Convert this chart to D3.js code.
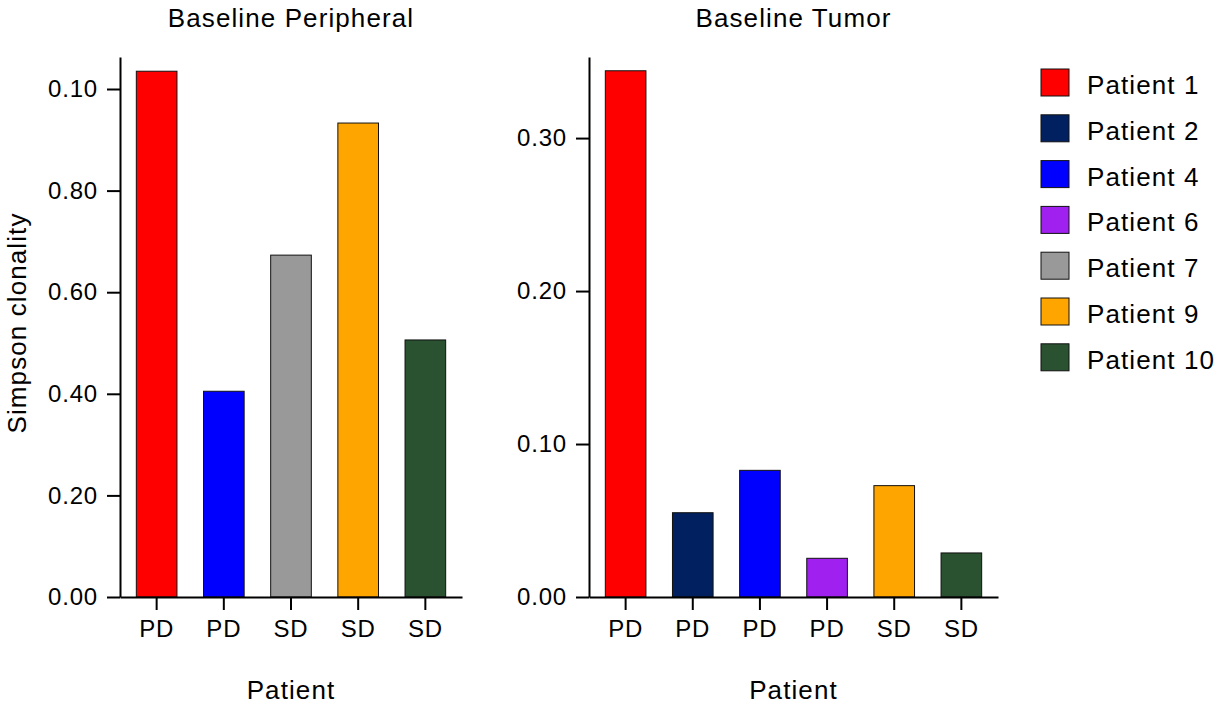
<!DOCTYPE html>
<html>
<head>
<meta charset="utf-8">
<script src="https://cdn.jsdelivr.net/npm/d3@7"></script>
<style>
  body { margin: 0; background: #fff; }
  svg text { font-family: "Liberation Sans", Arial, sans-serif; fill: #000; letter-spacing: 1.1px; }
  .axis path, .axis line { stroke: #000; stroke-width: 2px; }
  .axis text { font-size: 24px; letter-spacing: 0.8px; }
</style>
</head>
<body>
<div id="chart"><svg width="1215" height="709"></svg></div>
<script>
// left panel: Baseline Peripheral
const periphPatients = ["Patient 1", "Patient 4", "Patient 7", "Patient 9", "Patient 10"];
const periphResponse = ["PD", "PD", "SD", "SD", "SD"];
const periphValues = [1.035, 0.405, 0.673, 0.933, 0.506];
const periphTicks = [0, 0.2, 0.4, 0.6, 0.8, 1.0];
const periphTickLabels = ["0.00", "0.20", "0.40", "0.60", "0.80", "0.10"];

// right panel: Baseline Tumor
const tumorPatients = ["Patient 1", "Patient 2", "Patient 4", "Patient 6", "Patient 9", "Patient 10"];
const tumorResponse = ["PD", "PD", "PD", "PD", "SD", "SD"];
const tumorValues = [0.344, 0.0551, 0.0828, 0.0253, 0.0728, 0.0288];
const tumorTicks = [0, 0.1, 0.2, 0.3];
const tumorTickLabels = ["0.00", "0.10", "0.20", "0.30"];

// legend
const legendPatients = ["Patient 1", "Patient 2", "Patient 4", "Patient 6", "Patient 7", "Patient 9", "Patient 10"];
const legendColors = ["#FF0000", "#002060", "#0000FF", "#A020F0", "#999999", "#FFA500", "#2A5230"];

const color = d3.scaleOrdinal().domain(legendPatients).range(legendColors);

const svg = d3.select("#chart").select("svg");

const plotTop = 57, plotBottom = 597;

function drawPanel(cfg) {
	const n = cfg.patients.length;
	const xScale = d3.scaleBand()
		.domain(d3.range(n))
		.range([cfg.x0, cfg.x1])
		.paddingInner(0.395)
		.paddingOuter(0.243);

	const yScale = d3.scaleLinear()
		.domain([0, cfg.yMax])
		.range([plotBottom, plotTop]);

	const g = svg.append("g");

	// bars
	g.selectAll(".bar")
	  .data(cfg.values)
	  .enter()
	  .append("rect")
		.attr("class", "bar")
		.attr("x", (d, i) => xScale(i))
		.attr("width", xScale.bandwidth())
		.attr("y", d => yScale(d))
		.attr("height", d => plotBottom - yScale(d))
		.attr("fill", (d, i) => color(cfg.patients[i]))
		.attr("stroke", "#111")
		.attr("stroke-width", 1);

	// y axis
	g.append("g")
		.attr("class", "axis")
		.attr("transform", `translate(${cfg.x0}, 0)`)
		.call(d3.axisLeft(yScale)
			.tickValues(cfg.ticks)
			.tickFormat((d, i) => cfg.tickLabels[i])
			.tickSize(13)
			.tickPadding(9)
			.tickSizeOuter(0)
		);

	// x axis
	g.append("g")
		.attr("class", "axis")
		.attr("transform", `translate(0, ${plotBottom})`)
		.call(d3.axisBottom(xScale)
			.tickFormat((d, i) => cfg.response[i])
			.tickSize(13)
			.tickPadding(10)
			.tickSizeOuter(0)
		);

	g.selectAll(".axis .domain").attr("fill", "none");

	const mid = (cfg.x0 + cfg.x1) / 2;

	g.append("text")
		.attr("x", mid)
		.attr("y", 27)
		.attr("text-anchor", "middle")
		.attr("font-size", 26)
		.text(cfg.title);

	g.append("text")
		.attr("x", mid)
		.attr("y", 699)
		.attr("text-anchor", "middle")
		.attr("font-size", 26)
		.text("Patient");
}

drawPanel({
	patients: periphPatients, response: periphResponse, values: periphValues,
	ticks: periphTicks, tickLabels: periphTickLabels,
	yMax: 1.063, x0: 120, x1: 462, title: "Baseline Peripheral"
});

drawPanel({
	patients: tumorPatients, response: tumorResponse, values: tumorValues,
	ticks: tumorTicks, tickLabels: tumorTickLabels,
	yMax: 0.353, x0: 589, x1: 998, title: "Baseline Tumor"
});

// y label
svg.append("text")
	.attr("transform", "translate(26, 323) rotate(-90)")
	.attr("text-anchor", "middle")
	.attr("font-size", 26)
	.text("Simpson clonality");

// legend
const legend = svg.append("g").attr("transform", "translate(1041, 69)");

const rows = legend.selectAll(".legendRow")
  .data(legendPatients)
  .enter()
  .append("g")
	.attr("class", "legendRow")
	.attr("transform", (d, i) => `translate(0, ${i * 45.8})`);

rows.append("rect")
	.attr("width", 28)
	.attr("height", 27)
	.attr("fill", d => color(d))
	.attr("stroke", "#111")
	.attr("stroke-width", 1);

rows.append("text")
	.attr("x", 46)
	.attr("y", 16)
	.attr("dy", "0.35em")
	.attr("font-size", 26)
	.text(d => d);
</script>
</body>
</html>
